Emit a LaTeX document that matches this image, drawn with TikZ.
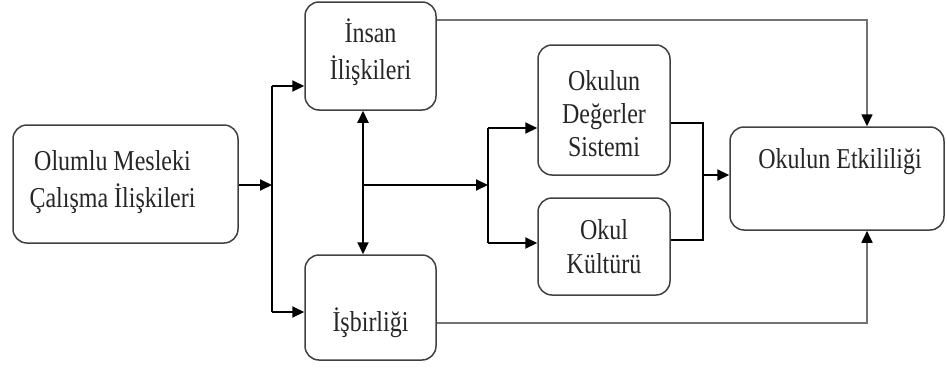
\documentclass[tikz,border=0pt]{standalone}
\usepackage{fontspec}
\setmainfont{Liberation Serif}
\usetikzlibrary{arrows.meta}
\newcommand\talltext[2]{\scalebox{1}[1.2]{\fontsize{24}{#1}\selectfont\begin{tabular}{@{}c@{}}#2\end{tabular}}}
\begin{document}
\begin{tikzpicture}[x=1pt,y=-1pt,
  box/.style={draw=black!75,line width=1.5pt,rounded corners=14pt,inner sep=0pt},
  txt/.style={align=center,inner sep=0pt,text=black!85},
  arr/.style={line width=2pt,-{Triangle[length=12pt,width=11pt]}},
  conn/.style={line width=2pt},
  longarr/.style={draw=black!55,line width=1.6pt,-{Triangle[length=12pt,width=11pt,color=black]}}]
\useasboundingbox (0,0) rectangle (947,367);
% boxes
\node[box,minimum width=225pt,minimum height=118pt] (A) at (125.5,184) {};
\node[box,minimum width=131pt,minimum height=108pt] (B) at (370.5,56) {};
\node[box,minimum width=131pt,minimum height=105pt] (C) at (370.5,307.5) {};
\node[box,minimum width=132pt,minimum height=130pt] (D) at (604,110) {};
\node[box,minimum width=132pt,minimum height=97pt] (E) at (604,246.5) {};
\node[box,minimum width=214pt,minimum height=103pt] (F) at (837,178.5) {};
% texts
\node[txt] (tA) at (112.5,181.5) {\talltext{30.8}{Olumlu Mesleki\\Çalışma İlişkileri}};
\node[txt] (tB) at (370.5,53.5) {\talltext{30.8}{İnsan\\İlişkileri}};
\node[txt] (tC) at (370.5,325) {\talltext{28}{İşbirliği}};
\node[txt] (tD) at (604,117) {\talltext{27.5}{Okulun\\Değerler\\Sistemi}};
\node[txt] (tE) at (604,250) {\talltext{28}{Okul\\Kültürü}};
\node[txt] (tF) at (840,162) {\talltext{28}{Okulun Etkililiği}};
% junction coordinates
\coordinate (j1) at (272,185);
\coordinate (j1t) at (272,86);
\coordinate (j1b) at (272,312);
\coordinate (v) at (363,185);
\coordinate (j2) at (488,185);
\coordinate (j2t) at (488,128);
\coordinate (j2b) at (488,243);
\coordinate (j3t) at (703,123);
\coordinate (j3b) at (703,240);
\coordinate (j3) at (703,175);
\coordinate (tr) at (867,20);
\coordinate (br) at (867,323);
% connectors
\draw[arr] (A.east |- j1) -- (j1);
\draw[conn] (j1t) -- (j1b);
\draw[arr] (j1t) -- (B.west |- j1t);
\draw[arr] (j1b) -- (C.west |- j1b);
\draw[line width=2pt,{Triangle[length=12pt,width=11pt]}-{Triangle[length=12pt,width=11pt]}] (B.south -| v) -- (C.north -| v);
\draw[arr] (v) -- (j2);
\draw[conn] (j2t) -- (j2b);
\draw[arr] (j2t) -- (D.west |- j2t);
\draw[arr] (j2b) -- (E.west |- j2b);
\draw[conn] (D.east |- j3t) -- (j3t) -- (j3b) -- (E.east |- j3b);
\draw[arr] (j3) -- (F.west |- j3);
\draw[longarr] (B.east |- tr) -- (tr) -- (F.north -| tr);
\draw[longarr] (C.east |- br) -- (br) -- (F.south -| br);
\end{tikzpicture}
\end{document}
